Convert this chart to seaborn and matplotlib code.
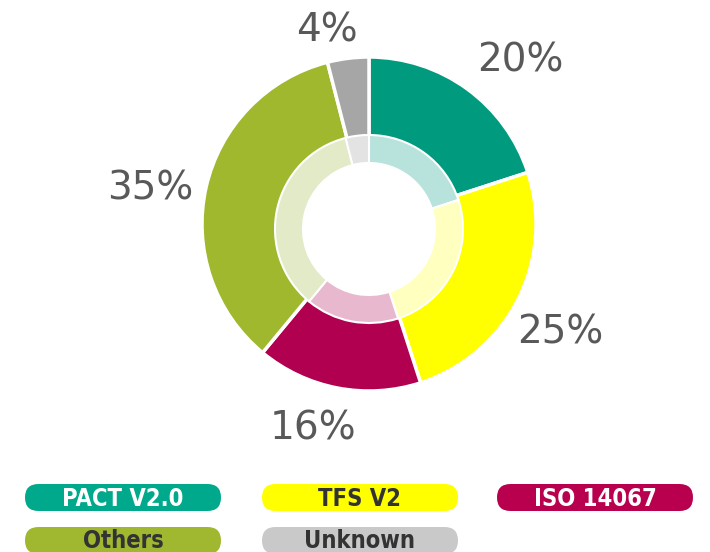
import matplotlib
matplotlib.use("Agg")
import matplotlib.pyplot as plt
from matplotlib.patches import FancyBboxPatch
import seaborn as sns

sns.set_theme(style="white")
plt.rcParams['font.family'] = ['DejaVu Sans']

categories = ["PACT V2.0", "TFS V2", "ISO 14067", "Others", "Unknown"]
values = [20, 25, 16, 35, 4]
outer_colors = ["#009B7E", "#FFFF00", "#B1004F", "#9FB82D", "#A6A6A6"]
inner_colors = ["#B8E2DC", "#FFFFC0", "#E8B9CE", "#E2EAC8", "#E3E3E3"]
legend_colors = ["#00A98B", "#FFFF00", "#B8004F", "#A0B830", "#C9C9C9"]
legend_text_colors = ["white", "#333333", "white", "#333333", "#333333"]
# label anchor positions (pixels from top-left)
label_pos = [(520, 60), (560, 333), (313, 428), (150, 188), (327, 30)]

W, H = 710, 552
fig = plt.figure(figsize=(W / 100, H / 100), dpi=100)
ax = fig.add_axes([0, 0, 1, 1])

outer_center = (369, H - 224)
inner_center = (369, H - 229)

wedges, texts, autotexts = ax.pie(
    values, colors=outer_colors, startangle=90, counterclock=False,
    center=outer_center, radius=167,
    wedgeprops=dict(width=87, edgecolor="white", linewidth=2.5),
    autopct=lambda p: f"{p:.0f}%", pctdistance=1.3,
    textprops=dict(color="#595959", fontsize=28),
)
for t, (px, py) in zip(autotexts, label_pos):
    t.set_position((px, H - py))

ax.pie(
    values, colors=inner_colors, startangle=90, counterclock=False,
    center=inner_center, radius=94,
    wedgeprops=dict(width=28, edgecolor="white", linewidth=1.5),
)

ax.set_xlim(0, W)
ax.set_ylim(0, H)
ax.set_aspect("equal")
ax.axis("off")

# legend pills
pill_w, pill_h = 196, 27
xs = [25, 262, 497, 25, 262]
ys = [484, 484, 484, 527, 527]
for cat, col, tcol, x, y in zip(categories, legend_colors, legend_text_colors, xs, ys):
    box = FancyBboxPatch((x + 13.5, H - y - pill_h + 13.5), pill_w - 27, 0.001,
                         boxstyle="round,pad=13.5", facecolor=col,
                         edgecolor="none", clip_on=False)
    ax.add_patch(box)
    ax.text(x + pill_w / 2, H - y - pill_h / 2 - 1, cat, ha="center", va="center",
            color=tcol, fontsize=17, fontweight="bold", fontstretch="condensed",
            family=["Liberation Sans Narrow", "DejaVu Sans"])

fig.savefig("out.png", dpi=100)
